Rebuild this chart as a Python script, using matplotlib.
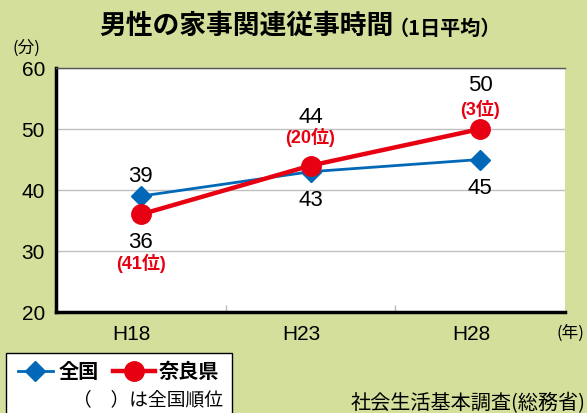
import matplotlib
matplotlib.use("Agg")
import matplotlib.pyplot as plt
from matplotlib.lines import Line2D
from matplotlib.patches import Rectangle
from matplotlib.transforms import ScaledTranslation

years = ["H18", "H23", "H28"]
national = [39, 43, 45]
nara = [36, 44, 50]
nara_rank = ["(41位)", "(20位)", "(3位)"]
yticks = [20, 30, 40, 50, 60]

BG = "#d3df9b"
RED = "#e60012"
BLUE = "#0068b7"
FONT = ["Liberation Sans", "Noto Sans CJK JP", "DejaVu Sans"]
plt.rcParams["font.family"] = FONT

W, H = 587, 414
fig = plt.figure(figsize=(W / 100, H / 100), dpi=100, facecolor=BG)

def fx(px):
    return px / W

def fy(py):
    return 1 - py / H

ax = fig.add_axes([fx(56), fy(313), fx(565) - fx(56), fy(69) - fy(313)])
ax.set_facecolor("white")
x = list(range(len(years)))

ax.plot(x, national, color=BLUE, lw=2.0, marker="D", ms=10, mec=BLUE, mfc=BLUE, zorder=3)
ax.plot(x, nara, color=RED, lw=3.2, marker="o", ms=14, mec=RED, mfc=RED, zorder=4)

ax.set_xlim(-0.5, 2.5)
ax.set_ylim(20, 60)
ax.set_yticks(yticks)
ax.set_yticklabels([str(v) for v in yticks], fontsize=15)
ax.tick_params(axis="y", length=0, pad=8)
ax.set_xticks(x)
ax.set_xticklabels(years, fontsize=15)
ax.tick_params(axis="x", length=0, pad=9)
shift = ScaledTranslation(-9 / 100, 0, fig.dpi_scale_trans)
for lab in ax.get_xticklabels():
    lab.set_transform(lab.get_transform() + shift)
ax.set_xticks([0.5, 1.5], minor=True)
ax.tick_params(axis="x", which="minor", length=5, direction="in", color="#bbbbbb", width=1)
ax.grid(axis="y", color="#c0c0c0", lw=1)
ax.set_axisbelow(True)

for s in ["left", "bottom"]:
    ax.spines[s].set_color("black")
    ax.spines[s].set_linewidth(2.5)
ax.spines["top"].set_color("#555555")
ax.spines["top"].set_linewidth(1)
ax.spines["right"].set_visible(False)

# data labels (offsets in points)
nat_off = [15, -20, -20]
for i, v in enumerate(national):
    ax.annotate(str(v), (i, v), xytext=(0, nat_off[i]), textcoords="offset points",
                ha="center", va="center", fontsize=16, color="black")
nara_off = [(-19.5, -34.5), (35, 21), (32, 15)]
for i, v in enumerate(nara):
    o1, o2 = nara_off[i]
    ax.annotate(str(v), (i, v), xytext=(0, o1), textcoords="offset points",
                ha="center", va="center", fontsize=16, color="black")
    ax.annotate(nara_rank[i], (i, v), xytext=(0, o2), textcoords="offset points",
                ha="center", va="center", fontsize=13, fontweight="bold", color=RED)

# title
fig.text(fx(99), fy(26), "男性の家事関連従事時間", fontsize=19.3, fontweight="bold",
         ha="left", va="center", family=["Noto Sans CJK JP"])
fig.text(fx(389), fy(28), "（1日平均）", fontsize=14.5, fontweight="bold",
         ha="left", va="center", family=["Noto Sans CJK JP"])

fig.text(fx(26), fy(48), "(分)", fontsize=12, ha="center", va="center",
         family=["Noto Sans CJK JP"])
fig.text(fx(570), fy(333), "(年)", fontsize=12, ha="center", va="center",
         family=["Noto Sans CJK JP"])

# legend box
fig.patches.append(Rectangle((fx(6), fy(420)), fx(232) - fx(6), fy(354) - fy(420),
                             transform=fig.transFigure, facecolor="white",
                             edgecolor="black", lw=1, zorder=1))
ly = fy(372)
fig.lines.append(Line2D([fx(18), fx(53)], [ly, ly], transform=fig.transFigure,
                        color=BLUE, lw=2.0, zorder=2))
fig.lines.append(Line2D([fx(35)], [ly], transform=fig.transFigure, color=BLUE,
                        marker="D", ms=10, zorder=3))
fig.text(fx(59), ly, "全国", fontsize=14.5, fontweight="bold", ha="left", va="center",
         family=["Noto Sans CJK JP"], zorder=3)
fig.lines.append(Line2D([fx(113), fx(155)], [ly, ly], transform=fig.transFigure,
                        color=RED, lw=3.2, zorder=2))
fig.lines.append(Line2D([fx(134)], [ly], transform=fig.transFigure, color=RED,
                        marker="o", ms=14, zorder=3))
fig.text(fx(159), ly, "奈良県", fontsize=14.5, fontweight="bold", ha="left", va="center",
         family=["Noto Sans CJK JP"], zorder=3)
fig.text(fx(223), fy(400), "（　）は全国順位", fontsize=13.5, ha="right", va="center",
         family=["Noto Sans CJK JP"], zorder=3)

fig.text(fx(586), fy(404), "社会生活基本調査(総務省)", fontsize=14.5, ha="right",
         va="center", family=["Noto Sans CJK JP"])

fig.savefig("out.png", dpi=100, facecolor=BG)
